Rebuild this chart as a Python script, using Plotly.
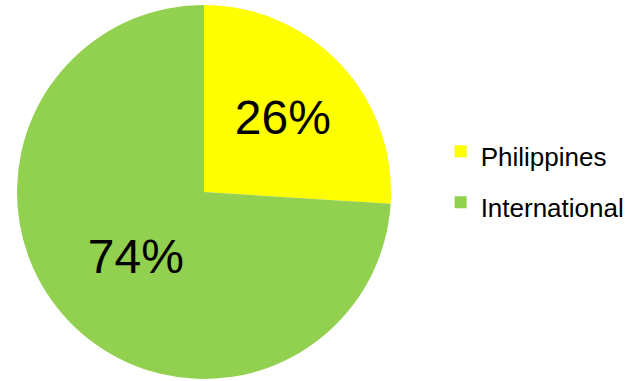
import plotly.graph_objects as go

labels = ["Philippines", "International"]
values = [26, 74]
colors = ["#FFFF00", "#92D050"]

W, H = 634, 381
cx, cy, r = 204, 192, 187

legend_text = [f"<span style='font-size:26px'>{lab}</span>" for lab in labels]

fig = go.Figure(go.Pie(
    labels=legend_text,
    values=values,
    sort=False,
    direction="clockwise",
    rotation=0,
    marker=dict(colors=colors, line=dict(width=0)),
    textinfo="percent",
    texttemplate="%{percent:.0%}",
    textposition="inside",
    insidetextorientation="horizontal",
    textfont=dict(family="Liberation Sans, Arial, sans-serif", size=48, color="black"),
    domain=dict(x=[(cx - r) / W, (cx + r) / W],
                y=[(H - cy - r) / H, (H - cy + r) / H]),
    hoverinfo="skip",
))

fig.update_layout(
    width=W, height=H,
    margin=dict(l=0, r=0, t=0, b=0),
    paper_bgcolor="white",
    plot_bgcolor="white",
    showlegend=True,
    legend=dict(
        x=0.695, y=0.535, xanchor="left", yanchor="middle",
        font=dict(family="Liberation Sans, Arial, sans-serif", size=37, color="black"),
        itemwidth=30,
    ),
    uniformtext=dict(minsize=48, mode="show"),
)

fig.write_html("out.html")
